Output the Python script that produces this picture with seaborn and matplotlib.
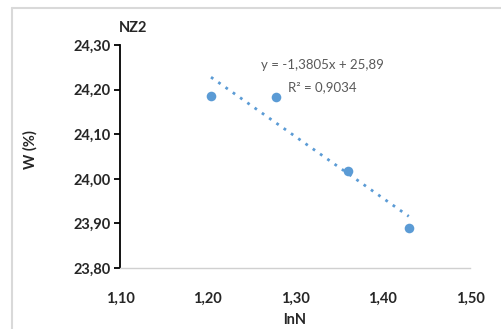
import numpy as np
import pandas as pd
import seaborn as sns
import matplotlib
matplotlib.use("Agg")
import matplotlib.pyplot as plt
from matplotlib.lines import Line2D

# Data
lnN = [1.204, 1.278, 1.361, 1.430]
W = [24.185, 24.183, 24.017, 23.889]
slope = -1.3805
intercept = 25.89
r2 = 0.9034
x_ticks = [1.10, 1.20, 1.30, 1.40, 1.50]
y_ticks = [23.80, 23.90, 24.00, 24.10, 24.20, 24.30]
title = "NZ2"
x_label = "lnN"
y_label = "W (%)"

sns.set_theme(style="white")
plt.rcParams['font.family'] = ['Lato', 'DejaVu Sans']

blue = "#5B9BD5"
txt = "#262626"

fig = plt.figure(figsize=(5.01, 3.29), dpi=100)
ax = fig.add_axes([120/501, 1 - 268/329, (470-120)/501, (268-45)/329])

df = pd.DataFrame({"lnN": lnN, "W": W})
sns.scatterplot(data=df, x="lnN", y="W", ax=ax, color=blue, s=48, edgecolor=blue, linewidth=0, zorder=3)

xs = np.array([min(lnN), max(lnN)])
trend = pd.DataFrame({"x": xs, "y": slope * xs + intercept})
sns.lineplot(data=trend, x="x", y="y", ax=ax, color=blue, linestyle=(0, (1, 2.2)), linewidth=2.0, zorder=2)

ax.set_xlim(x_ticks[0], x_ticks[-1])
ax.set_ylim(y_ticks[0], y_ticks[-1])
ax.set_xticks(x_ticks)
ax.set_yticks(y_ticks)
ax.set_xticklabels([f"{v:.2f}".replace(".", ",") for v in x_ticks], fontsize=10.5, fontweight="bold", color=txt)
ax.set_yticklabels([f"{v:.2f}".replace(".", ",") for v in y_ticks], fontsize=10.5, fontweight="bold", color=txt)

for s in ["top", "right"]:
    ax.spines[s].set_visible(False)
ax.spines["left"].set_color("black")
ax.spines["left"].set_linewidth(1.3)
ax.spines["bottom"].set_color("#d0d0d0")
ax.spines["bottom"].set_linewidth(1.0)
ax.tick_params(axis="y", which="major", direction="out", length=4, width=1.3, color="black", pad=3, left=True)
ax.tick_params(axis="x", which="major", length=0, pad=17)

ax.set_xlabel(x_label, fontsize=10.5, fontweight="bold", color=txt, labelpad=5)
ax.set_ylabel(y_label, fontsize=10.5, fontweight="bold", color=txt)
ax.yaxis.set_label_coords(38/501, 1 - 150/329, transform=fig.transFigure)

fig.text(133/501, 1 - 28/329, title, fontsize=10.5, fontweight="bold", color=txt, ha="center", va="center")

ax.text(1.331, 24.255, f"y = {slope:.4f}x + {intercept:.2f}".replace(".", ","), fontsize=9.5, color="#595959",
        ha="center", va="center")
ax.text(1.331, 24.206, f"R² = {r2:.4f}".replace(".", ","), fontsize=9.5, color="#595959",
        ha="center", va="center")

# outer chart frame (only top and left edges visible in the crop)
fig.add_artist(Line2D([12/501, 1], [1 - 8/329, 1 - 8/329], transform=fig.transFigure, color="#d9d9d9", linewidth=1.5))
fig.add_artist(Line2D([12/501, 12/501], [0, 1 - 8/329], transform=fig.transFigure, color="#d9d9d9", linewidth=1.5))

fig.savefig("out.png", dpi=100)
